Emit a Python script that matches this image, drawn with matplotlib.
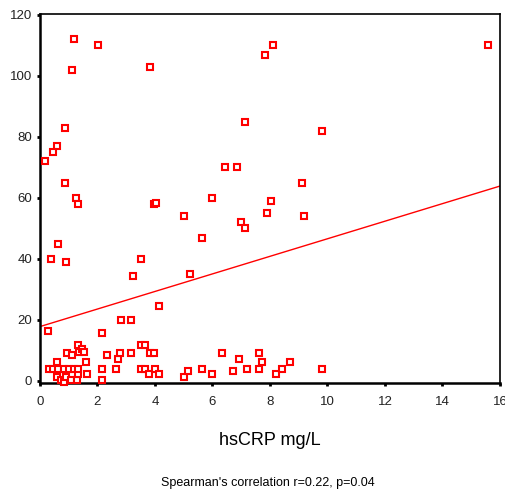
import matplotlib
matplotlib.use("Agg")
import matplotlib.pyplot as plt
import numpy as np

plt.rcParams['font.family'] = ['Liberation Sans', 'DejaVu Sans']

# hsCRP (mg/L)
hs_crp = [
    1.18, 2.03, 1.11, 3.81, 0.87, 0.58, 0.45, 0.16, 0.87, 1.25, 1.33,
    0.62, 0.37, 0.92, 0.29, 3.97, 4.02, 3.52, 3.23, 4.15, 2.82, 3.15, 2.16,
    9.12, 6.00, 8.05, 5.01, 7.91, 9.19, 6.99, 7.13, 5.63, 5.22,
    8.12, 7.83, 7.13, 9.82, 6.42, 6.84, 15.58,
    0.30, 0.46, 0.58, 0.64, 0.58, 0.73, 0.83, 0.92, 0.83, 0.94, 1.02,
    1.11, 1.18, 1.08, 1.30, 1.33, 1.33, 1.32, 1.35, 1.45, 1.53, 1.59,
    1.62, 2.16, 2.16, 2.32, 2.64, 2.72, 2.77, 3.15, 3.52, 3.66, 3.52,
    3.66, 3.78, 3.83, 3.95, 4.01, 4.15,
    5.01, 5.14, 5.63, 6.00, 6.33, 6.71, 6.92, 7.21, 7.62, 7.71, 7.62,
    8.20, 8.41, 8.71, 9.82,
]
# response variable
response = [
    112, 110, 102, 103, 83, 77, 75, 72, 65, 60, 58,
    45, 40, 39, 16.5, 58, 58.3, 40, 34.5, 24.5, 20, 20, 15.6,
    65, 60, 59, 54, 55, 54, 52, 50, 47, 35,
    110, 107, 85, 82, 70, 70, 110,
    4, 4, 6.3, 4, 1.4, 0.3, -0.5, 1.4, 4, 9.3, 4,
    8.4, 4, 0.2, 0.2, 2.4, 4, 11.7, 9.6, 10.5, 9.6, 6.3,
    2.3, 4, 0.2, 8.4, 4, 7.1, 9.3, 9.3, 11.7, 11.7, 4,
    4, 2.3, 9.3, 9.3, 4, 2.3,
    1.4, 3.2, 4, 2.3, 9.3, 3.2, 7.1, 4, 9.3, 6.3, 4,
    2.3, 4, 6.3, 4,
]
# fitted regression line
fit_intercept = 17.8
fit_slope = 2.88

x_ticks = [0, 2, 4, 6, 8, 10, 12, 14, 16]
y_ticks = [0, 20, 40, 60, 80, 100, 120]

fig = plt.figure(figsize=(5.06, 4.90), dpi=100)
ax = fig.add_axes([40/506, 1 - 383/490, 460/506, 369/490])

ax.plot(hs_crp, response, linestyle='none', marker='s', markersize=4.4,
        markeredgewidth=1.5, markeredgecolor='#ff0000', markerfacecolor='white',
        clip_on=False, zorder=3)

xl = np.array([0, 16])
ax.plot(xl, fit_intercept + fit_slope * xl, color='#ff0000', linewidth=1.0, zorder=2)

ax.set_xlim(0, 16)
ax.set_ylim(-0.7, 120.3)
ax.set_xticks(x_ticks)
ax.set_yticks(y_ticks)
ax.tick_params(direction='out', length=2.5, width=2, labelsize=9.5,
               colors='black', labelcolor='#222222')
ax.tick_params(axis='x', pad=7)
ax.tick_params(axis='y', pad=3)

for side in ['left', 'bottom']:
    ax.spines[side].set_linewidth(1.8)
for side in ['top', 'right']:
    ax.spines[side].set_linewidth(1.2)

fig.text(270/506, 1 - 440/490, 'hsCRP mg/L', ha='center', va='center', fontsize=13)
fig.text(268/506, 1 - 483/490, "Spearman's correlation r=0.22, p=0.04",
         ha='center', va='center', fontsize=9)

fig.savefig('out.png', dpi=100)
